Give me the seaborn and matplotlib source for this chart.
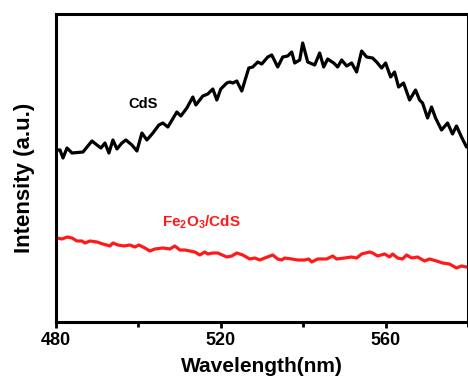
import numpy as np
import pandas as pd
import matplotlib
matplotlib.use("Agg")
import matplotlib.pyplot as plt
import seaborn as sns
from matplotlib.ticker import MultipleLocator

# Values (x pixel -> wavelength, y pixel -> intensity a.u.)
cds_px = [56, 60, 63, 67, 72, 83, 92, 97, 101, 105, 109, 113, 117, 122, 126, 132, 137, 142,
          147, 153, 159, 163, 168, 177, 181, 187, 193, 196, 203, 208, 213, 217, 221, 227,
          230, 233, 237, 242, 249, 253, 258, 262, 268, 272, 278, 283, 288, 292, 295, 300,
          303, 308, 315, 320, 324, 328, 334, 338, 342, 347, 352, 357, 362, 367, 373, 377,
          382, 386, 391, 395, 399, 404, 410, 416, 420, 423, 428, 432, 436, 442, 448, 453,
          457, 462, 467]
cds_py = [150, 150, 158, 148, 153, 152, 141, 145, 148, 143, 153, 140, 149, 143, 140, 145, 151, 133,
          140, 133, 125, 123, 127, 112, 116, 108, 97, 105, 96, 94, 89, 100, 89, 83,
          82, 83, 81, 91, 68, 67, 62, 64, 57, 55, 67, 57, 56, 52, 63, 60,
          43, 62, 65, 53, 67, 59, 63, 67, 60, 66, 63, 72, 51, 57, 58, 62,
          68, 63, 77, 72, 87, 83, 100, 90, 100, 103, 118, 107, 118, 130, 123, 134,
          126, 137, 147]
fe_px = [57, 62, 67, 72, 77, 82, 85, 90, 97, 103, 110, 113, 118, 124, 130, 135, 139, 145, 150,
         155, 163, 170, 175, 180, 185, 195, 200, 205, 208, 213, 218, 227, 232, 237, 243, 250,
         255, 260, 265, 273, 278, 282, 285, 292, 298, 305, 309, 312, 318, 327, 333, 337,
         345, 352, 357, 362, 370, 373, 378, 385, 390, 393, 398, 403, 407, 412, 418, 425,
         430, 437, 443, 450, 457, 462, 467]
fe_py = [238, 239, 237, 238, 241, 241, 243, 241, 242, 244, 246, 243, 245, 246, 245, 247, 245, 248, 251,
         249, 248, 249, 246, 250, 250, 252, 255, 252, 254, 253, 253, 257, 256, 253, 255, 259,
         258, 260, 258, 255, 259, 260, 258, 259, 260, 260, 259, 262, 259, 259, 256, 259,
         258, 257, 258, 254, 252, 253, 256, 254, 257, 254, 258, 259, 255, 258, 257, 261,
         259, 261, 263, 264, 268, 266, 267]


def to_nm(px):
    return [480 + (p - 56) * 40 / 165 for p in px]


def to_int(py):
    return [322 - p for p in py]


cds_wl = to_nm(cds_px)
cds_int = to_int(cds_py)
fe_wl = to_nm(fe_px)
fe_int = to_int(fe_py)

sns.set_style("white")
plt.rcParams['font.family'] = ['Liberation Sans', 'DejaVu Sans']
plt.rcParams['font.weight'] = 'bold'
plt.rcParams['text.color'] = 'black'
plt.rcParams['axes.labelcolor'] = 'black'
plt.rcParams['xtick.color'] = 'black'
plt.rcParams['mathtext.fontset'] = 'custom'
plt.rcParams['mathtext.rm'] = 'Liberation Sans:bold'
plt.rcParams['mathtext.bf'] = 'Liberation Sans:bold'
plt.rcParams['mathtext.it'] = 'Liberation Sans:bold'

fig = plt.figure(figsize=(4.68, 3.84), dpi=100)
ax = fig.add_axes([56/468, 1 - 322/384, 1 - 56/468, (322 - 14)/384])

df1 = pd.DataFrame({"wl": cds_wl, "I": cds_int})
df2 = pd.DataFrame({"wl": fe_wl, "I": fe_int})
sns.lineplot(data=df1, x="wl", y="I", ax=ax, color="black", linewidth=2.3)
sns.lineplot(data=df2, x="wl", y="I", ax=ax, color="#ff1a1a", linewidth=2.3)

ax.set_xlim(480, 580)
ax.set_ylim(0, 308)
ax.xaxis.set_major_locator(MultipleLocator(40))
ax.xaxis.set_minor_locator(MultipleLocator(20))
ax.set_yticks([])
ax.tick_params(axis='x', which='major', direction='out', length=4.5, width=2,
               labelsize=13, pad=2.5, bottom=True, colors='black')
ax.tick_params(axis='x', which='minor', direction='out', length=3.5, width=2, bottom=True)
for lab in ax.get_xticklabels():
    lab.set_fontweight('bold')
for s in ax.spines.values():
    s.set_linewidth(2.2)
    s.set_color('black')

ax.set_xlabel("Wavelength(nm)", fontsize=15, fontweight='bold', labelpad=6, color='black')
ax.set_ylabel("Intensity (a.u.)", fontsize=16, fontweight='bold', labelpad=15, color='black',
              y=0.468)

ax.text(480 + (143 - 56) * 40 / 165, 322 - 104, "CdS", fontsize=10.5, fontweight='bold',
        ha='center', va='center', color='black')
ax.text(480 + (202 - 56) * 40 / 165, 322 - 222, r"Fe$_2$O$_3$/CdS", fontsize=11,
        fontweight='bold', ha='center', va='center', color='#ff1a1a')

fig.savefig("out.png", dpi=100)
